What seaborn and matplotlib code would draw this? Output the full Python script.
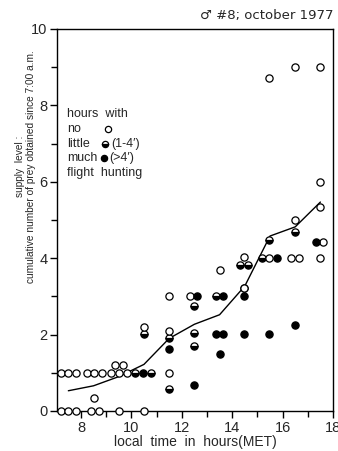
import matplotlib
matplotlib.use("Agg")
import matplotlib.pyplot as plt
import seaborn as sns
import numpy as np
import pandas as pd

# ---- data ----
# hours with no flight hunting (open circles)
x_no = [7.2, 7.5, 7.8, 8.4, 8.7, 9.5, 10.5,
        7.2, 7.5, 7.8, 8.23, 8.53, 8.84, 9.19, 9.52, 9.82, 11.5,
        9.35, 9.66, 8.53, 10.5, 11.5, 11.5, 12.33, 13.5, 14.48, 14.48,
        15.47, 15.47, 16.5, 16.34, 16.66, 16.5, 17.5, 17.62, 17.5, 17.5, 17.5]
y_no = [0, 0, 0, 0, 0, 0, 0,
        1, 1, 1, 1, 1, 1, 1, 1, 1, 1,
        1.2, 1.2, 0.35, 2.2, 3.02, 2.09, 3.0, 3.69, 4.02, 3.22,
        4.0, 8.73, 5.0, 4.0, 4.0, 9.0, 5.33, 4.42, 4.0, 6.0, 9.0]
# little flight hunting (1-4') (half filled)
x_little = [10.15, 10.78, 10.5, 11.5, 11.5, 12.5, 12.5, 12.5, 13.35,
            14.32, 14.64, 14.48, 15.17, 15.47, 16.5]
y_little = [1.0, 1.0, 2.01, 1.92, 0.57, 2.75, 2.03, 1.7, 3.02,
            3.82, 3.82, 3.22, 4.0, 4.48, 4.68]
# much flight hunting (>4') (filled)
x_much = [10.48, 11.5, 12.62, 12.5, 13.65, 13.35, 13.65, 13.5, 14.48, 14.48,
          15.79, 15.47, 16.5, 17.33]
y_much = [1.0, 1.63, 3.0, 0.68, 3.02, 2.02, 2.02, 1.5, 3.02, 2.02,
          4.0, 2.02, 2.26, 4.42]
# mean supply level per hour (line)
x_mean = [7.5, 8.5, 9.5, 10.5, 11.5, 12.5, 13.5, 14.5, 15.5, 16.5, 17.5]
y_mean = [0.53, 0.66, 0.9, 1.22, 1.9, 2.27, 2.52, 3.27, 4.58, 4.82, 5.47]

x_major = [8, 10, 12, 14, 16, 18]
y_major = [0, 2, 4, 6, 8, 10]

# ---- style ----
sns.set_style("ticks")
plt.rcParams["font.family"] = ["Liberation Sans", "DejaVu Sans"]
plt.rcParams["axes.linewidth"] = 1.0

fig = plt.figure(figsize=(3.38, 4.51), dpi=100)
ax = fig.add_axes([57 / 338, 40 / 451, 276 / 338, 382 / 451])

df_line = pd.DataFrame({"x": x_mean, "y": y_mean})
sns.lineplot(data=df_line, x="x", y="y", ax=ax, color="black", lw=1.0)

ms = 5.2
ax.plot(x_little, y_little, linestyle="none", marker="o", ms=ms,
        fillstyle="bottom", markerfacecolor="black", markerfacecoloralt="white",
        markeredgecolor="black", markeredgewidth=0.9, clip_on=False, zorder=3)
df_no = pd.DataFrame({"x": x_no, "y": y_no})
sns.scatterplot(data=df_no, x="x", y="y", ax=ax, marker="o", s=ms ** 2,
                facecolor="white", edgecolor="black", linewidth=0.9,
                clip_on=False, zorder=3)
df_much = pd.DataFrame({"x": x_much, "y": y_much})
sns.scatterplot(data=df_much, x="x", y="y", ax=ax, marker="o", s=ms ** 2,
                facecolor="black", edgecolor="black", linewidth=0.9,
                clip_on=False, zorder=3)

ax.set_xlim(7.05, 18)
ax.set_ylim(0, 10)
ax.set_xticks(x_major)
ax.set_xticks([9, 11, 13, 15, 17], minor=True)
ax.set_yticks(y_major)
ax.set_yticks([1, 3, 5, 7, 9], minor=True)
ax.tick_params(which="major", length=5, width=1.0, labelsize=10.5, pad=2,
               direction="out", color="black")
ax.tick_params(which="minor", length=4, width=1.0, direction="out", color="black")
for s in ax.spines.values():
    s.set_visible(True)
    s.set_color("black")

ax.set_xlabel("local  time  in  hours(MET)", fontsize=10, labelpad=0)
ax.set_ylabel("")
ax.text(-0.113, 0.641, "supply  level :\ncumulative number of prey obtained since 7:00 a.m.",
        transform=ax.transAxes, rotation=90, ha="center", va="center",
        multialignment="center", fontsize=7.3, linespacing=1.1)

fig.text(333 / 338, 1 - 15 / 451, "\u2642 #8; october 1977", ha="right", va="center",
         fontsize=9.5, family=["DejaVu Sans"])

# in-plot legend text
lx = 0.036
rows = [0.777, 0.737, 0.700, 0.663, 0.622]
labels = ["hours  with", "no", "little", "much", "flight  hunting"]
for r, t in zip(rows, labels):
    ax.text(lx, r, t, transform=ax.transAxes, fontsize=9, va="center", ha="left")
ax.plot([0.185], [0.737], transform=ax.transAxes, marker="o", ms=4.5,
        mfc="white", mec="black", mew=0.9, clip_on=False)
ax.plot([0.175], [0.700], transform=ax.transAxes, marker="o", ms=4.5,
        fillstyle="bottom", mfc="black", mfcalt="white", mec="black", mew=0.9,
        clip_on=False)
ax.plot([0.17], [0.663], transform=ax.transAxes, marker="o", ms=4.5,
        mfc="black", mec="black", mew=0.9, clip_on=False)
ax.text(0.195, 0.700, "(1-4\u2032)", transform=ax.transAxes, fontsize=9,
        va="center", ha="left", family=["Liberation Sans", "DejaVu Sans"])
ax.text(0.19, 0.663, "(>4\u2032)", transform=ax.transAxes, fontsize=9,
        va="center", ha="left", family=["Liberation Sans", "DejaVu Sans"])

fig.savefig("out.png", dpi=100)
